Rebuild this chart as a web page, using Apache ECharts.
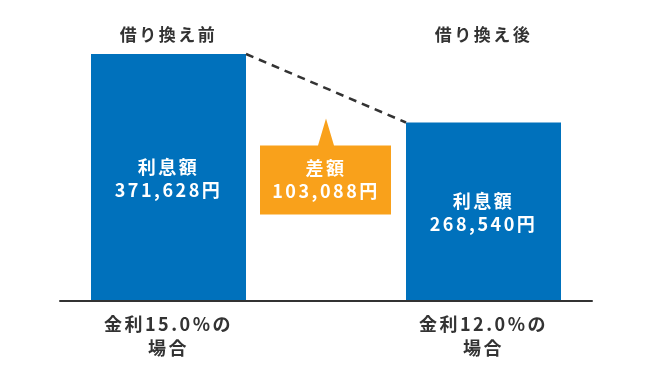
<!DOCTYPE html>
<html><head><meta charset="utf-8">
<script src="https://cdn.jsdelivr.net/npm/echarts@6/dist/echarts.min.js"></script>
<style>html,body{margin:0;padding:0;background:#fff}#c{width:650px;height:381px}</style>
</head><body><div id="c"></div>
<script>
const categories = ['金利15.0%の\n場合', '', '金利12.0%の\n場合'];
const topLabels = ['借り換え前', '', '借り換え後'];
const interest = [371628, null, 268540];
const difference = [103088];
const valueLabel = '利息額';
const diffTitle = '差額';

// letter spacing for all chart text (canvas renderer)
(function () {
  const proto = CanvasRenderingContext2D.prototype;
  const fill = proto.fillText, measure = proto.measureText;
  proto.fillText = function () { this.letterSpacing = '2.5px'; return fill.apply(this, arguments); };
  proto.measureText = function () { this.letterSpacing = '2.5px'; return measure.apply(this, arguments); };
})();

const FONT = '"Noto Sans CJK JP", "Noto Sans", sans-serif';
const BLUE = '#0071BC';
const ORANGE = '#F9A11B';
const fmt = v => String(v).replace(/\B(?=(\d{3})+(?!\d))/g, ',');
const BAR_W = 155;

const chart = echarts.init(document.getElementById('c'));
chart.setOption({
  animation: false,
  grid: [
    {left: 89.75, right: 87.75, top: 54, bottom: 80},
    {left: 60, right: 58, top: 54, bottom: 80}
  ],
  xAxis: [
    {type: 'category', gridIndex: 0, data: categories, position: 'bottom',
     axisLine: {show: false}, axisTick: {show: false},
     axisLabel: {fontFamily: FONT, fontSize: 18, fontWeight: 'bold', color: '#333', lineHeight: 24, margin: 11, interval: 0}},
    {type: 'category', gridIndex: 0, data: topLabels, position: 'top',
     axisLine: {show: false}, axisTick: {show: false},
     axisLabel: {fontFamily: FONT, fontSize: 17, fontWeight: 'bold', color: '#333', lineHeight: 20, margin: 9, interval: 0}},
    {type: 'value', gridIndex: 1, min: 0, max: 1, z: 10,
     axisLine: {show: true, lineStyle: {color: '#333', width: 2}},
     axisTick: {show: false}, axisLabel: {show: false}, splitLine: {show: false}}
  ],
  yAxis: [
    {type: 'value', gridIndex: 0, min: 0, max: 'dataMax', show: false},
    {type: 'value', gridIndex: 1, min: 0, max: 1, show: false}
  ],
  series: [
    {type: 'bar', xAxisIndex: 0, yAxisIndex: 0, data: interest, barWidth: BAR_W,
     itemStyle: {color: BLUE},
     label: {show: true, position: 'inside', fontFamily: FONT, fontSize: 18, fontWeight: 'bold',
       color: '#fff', lineHeight: 23, offset: [0, 1],
       formatter: p => valueLabel + '\n' + fmt(p.value) + '円'}},
    {type: 'custom', xAxisIndex: 0, yAxisIndex: 0, z: 5,
     data: [[0, interest[0], 2, interest[2]]],
     renderItem: function (params, api) {
       const a = api.coord([api.value(0), api.value(1)]);
       const b = api.coord([api.value(2), api.value(3)]);
       return {type: 'line', shape: {x1: a[0] + BAR_W / 2, y1: a[1], x2: b[0] - BAR_W / 2, y2: b[1]},
         style: {stroke: '#333', lineWidth: 2.5, lineDash: [8, 6]}};
     }},
    {type: 'custom', xAxisIndex: 0, yAxisIndex: 0, z: 6,
     data: [[1, difference[0], interest[2]]],
     renderItem: function (params, api) {
       const cx = api.coord([api.value(0), 0])[0];
       const apex = api.coord([api.value(0), api.value(2)])[1] - 4;
       const top = apex + 27, bottom = apex + 96;
       const x1 = cx - 66, x2 = cx + 65;
       return {type: 'group', children: [
         {type: 'polygon', shape: {points: [[cx, apex], [cx + 8, top], [x2, top], [x2, bottom], [x1, bottom], [x1, top], [cx - 8, top]]},
          style: {fill: ORANGE}},
         {type: 'text', x: cx, y: (top + bottom) / 2,
          style: {text: diffTitle + '\n' + fmt(api.value(1)) + '円', fill: '#fff', font: 'bold 18px ' + FONT,
            lineHeight: 23, align: 'center', verticalAlign: 'middle'}}
       ]};
     }}
  ]
});
</script></body></html>
